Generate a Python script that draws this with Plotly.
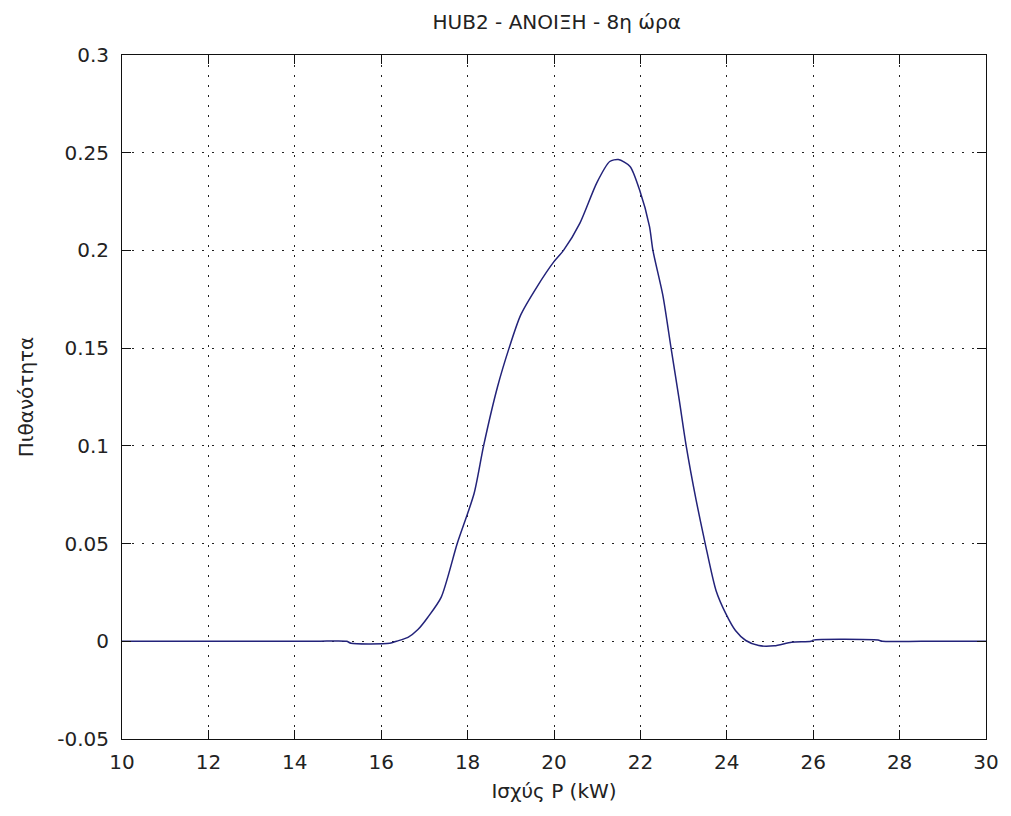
import plotly.graph_objects as go

# Power values (kW) and estimated probability density
power_kw = [10.0, 12.5, 14.5, 15.2, 15.3, 16.2, 16.35, 16.62, 16.85, 17.08, 17.39, 17.76, 18.15,
            18.37, 18.69, 18.96, 19.23, 19.61, 19.99, 20.22, 20.6, 20.99, 21.29, 21.49, 21.76,
            21.98, 22.21, 22.29, 22.52, 22.71, 22.90, 23.06, 23.29, 23.5, 23.75, 23.98,
            24.2, 24.44, 24.74, 25.1, 25.5, 25.95, 26.0, 27.5, 27.6, 28.5, 30.0]
probability = [0.0, 0.0, 0.0, 0.0, -0.001, -0.001, 0.0, 0.002, 0.006, 0.0123, 0.0226, 0.05, 0.0756,
               0.1, 0.130, 0.15, 0.167, 0.1815, 0.194, 0.2, 0.214, 0.2346, 0.2455, 0.2465, 0.243,
               0.231, 0.2123, 0.2, 0.177, 0.15, 0.1234, 0.1, 0.0722, 0.05, 0.026, 0.014,
               0.0055, 0.0004, -0.0022, -0.0023, -0.0005, 0.0, 0.0006, 0.0006, 0.0, 0.0, 0.0]

x_ticks = [10, 12, 14, 16, 18, 20, 22, 24, 26, 28, 30]
x_tick_text = ["10", "12", "14", "16", "18", "20", "22", "24", "26", "28", "30"]
y_ticks = [-0.05, 0, 0.05, 0.1, 0.15, 0.2, 0.25, 0.3]
y_tick_text = ["-0.05", "0", "0.05", "0.1", "0.15", "0.2", "0.25", "0.3"]

font_family = "DejaVu Sans"

fig = go.Figure()
fig.add_trace(go.Scatter(
    x=power_kw, y=probability, mode="lines",
    line=dict(color="#23237a", width=1.5, shape="spline", smoothing=0.7),
    showlegend=False, hoverinfo="skip",
))

axis_common = dict(
    showline=True, linecolor="#111111", linewidth=1, mirror="ticks",
    ticks="inside", ticklen=9, tickcolor="#111111", tickwidth=1,
    showgrid=True, gridcolor="#222222", gridwidth=1, griddash="2px,8px",
    zeroline=False,
    tickfont=dict(family=font_family, size=20, color="#222222"),
)

fig.update_xaxes(
    range=[10, 30], tickmode="array", tickvals=x_ticks, ticktext=x_tick_text,
    title=dict(text="Ισχύς P (kW)", font=dict(family=font_family, size=20, color="#222222"), standoff=10),
    ticklabelstandoff=5,
    **axis_common,
)
fig.update_yaxes(
    range=[-0.05, 0.3], tickmode="array", tickvals=y_ticks, ticktext=y_tick_text,
    title=dict(text="Πιθανότητα", font=dict(family=font_family, size=20, color="#222222"), standoff=18),
    ticklabelstandoff=8,
    **axis_common,
)

fig.update_layout(
    width=1011, height=816,
    margin=dict(l=122, r=19, t=55, b=77),
    paper_bgcolor="white", plot_bgcolor="white",
    title=dict(text="HUB2 - ΑΝΟΙΞΗ - 8η ώρα", x=0.5507, xanchor="center", y=0.973, yanchor="middle",
               font=dict(family=font_family, size=20, color="#222222")),
)

fig.write_html("out.html")
